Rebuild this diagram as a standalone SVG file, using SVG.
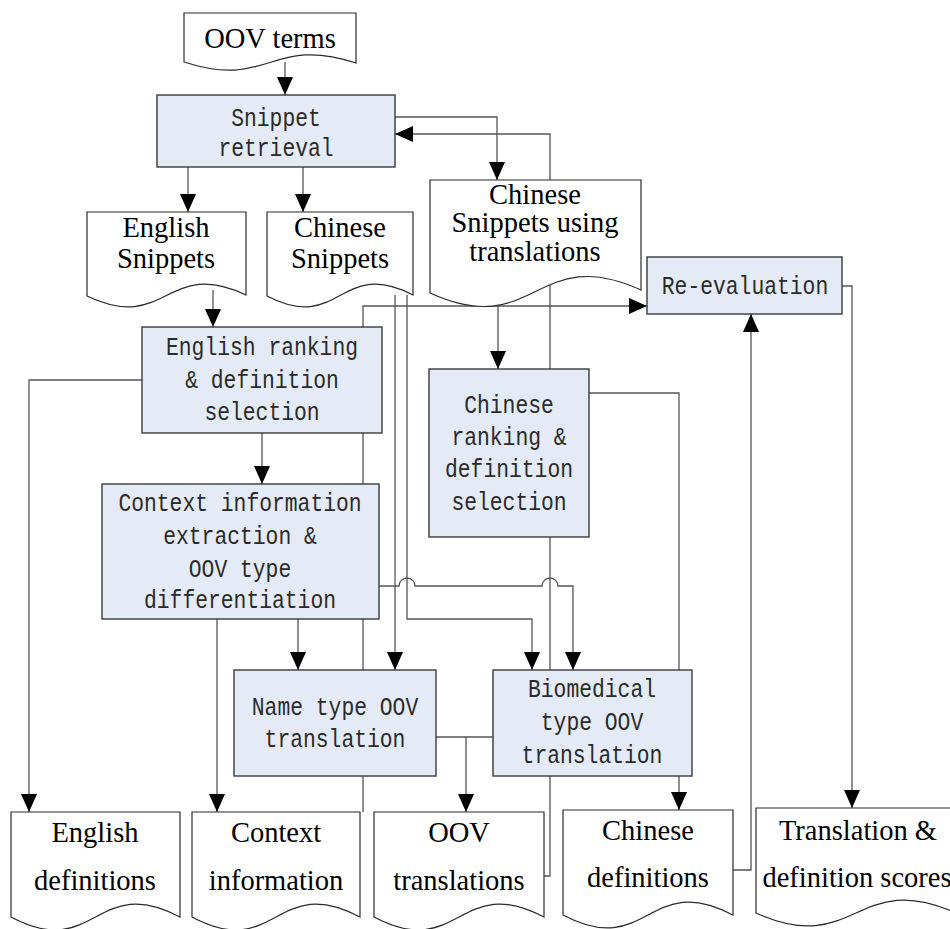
<svg xmlns="http://www.w3.org/2000/svg" width="950" height="929" viewBox="0 0 950 929">
<style>
.c{fill:none;stroke:#555;stroke-width:1.3}
.box{fill:#e5ebf6;stroke:#3a3a3a;stroke-width:1.4}
.doc{fill:#fff;stroke:#2a2a2a;stroke-width:1.2}
.m{font-family:"Liberation Mono","DejaVu Sans Mono",monospace;font-size:25px;fill:#2a2a2a;text-anchor:middle}
.t{font-family:"Liberation Serif","Times New Roman",serif;font-size:28.5px;fill:#000;text-anchor:middle}
</style>
<defs>
<marker id="ah" markerUnits="userSpaceOnUse" markerWidth="18" markerHeight="16" refX="18" refY="8" orient="auto" viewBox="0 0 18 16">
<path d="M0,0 L18,8 L0,16 Z" fill="#000"/>
</marker>
</defs>
<rect width="950" height="929" fill="#fff"/>
<g id="connectors">
<path class="c" d="M285,62 V95" marker-end="url(#ah)"/>
<path class="c" d="M188,167 V212" marker-end="url(#ah)"/>
<path class="c" d="M303,167 V212" marker-end="url(#ah)"/>
<path class="c" d="M395,117 H497 V180" marker-end="url(#ah)"/>
<path class="c" d="M544,876 H550 V134 H395" marker-end="url(#ah)"/>
<path class="c" d="M213,290 V327" marker-end="url(#ah)"/>
<path class="c" d="M395,295 V670" marker-end="url(#ah)"/>
<path class="c" d="M407,295 V619 H532 V670" marker-end="url(#ah)"/>
<path class="c" d="M498,305 V369" marker-end="url(#ah)"/>
<path class="c" d="M363,812 V306 H647" marker-end="url(#ah)"/>
<path class="c" d="M142,380 H29 V812" marker-end="url(#ah)"/>
<path class="c" d="M262,433 V484" marker-end="url(#ah)"/>
<path class="c" d="M589,393 H679 V810" marker-end="url(#ah)"/>
<path class="c" d="M379,586 H399 A8,8 0 0 1 415,586 H542 A8,8 0 0 1 558,586 H573 V670" marker-end="url(#ah)"/>
<path class="c" d="M217,619 V812" marker-end="url(#ah)"/>
<path class="c" d="M298,619 V670" marker-end="url(#ah)"/>
<path class="c" d="M436,737 H493"/>
<path class="c" d="M466,737 V812" marker-end="url(#ah)"/>
<path class="c" d="M733,870 H751 V314" marker-end="url(#ah)"/>
<path class="c" d="M842,286 H852 V808" marker-end="url(#ah)"/>
</g>
<g id="oov-terms">
<path class="doc" d="M184,13 H356 V63 C270,35 270,90 184,62 Z"/>
<text class="t" x="270" y="48">OOV terms</text>
</g>
<g id="snippet-retrieval">
<rect class="box" x="157" y="95" width="238" height="72"/>
<text class="m" x="276" y="126" textLength="89.6" lengthAdjust="spacingAndGlyphs">Snippet</text>
<text class="m" x="276" y="156" textLength="115.2" lengthAdjust="spacingAndGlyphs">retrieval</text>
</g>
<g id="english-snippets">
<path class="doc" d="M87,212 H246 V295 C166.5,257 166.5,334 87,296 Z"/>
<text class="t" x="166" y="237">English</text>
<text class="t" x="166" y="268">Snippets</text>
</g>
<g id="chinese-snippets">
<path class="doc" d="M267,212 H413 V295 C340,257 340,334 267,296 Z"/>
<text class="t" x="340" y="237">Chinese</text>
<text class="t" x="340" y="268">Snippets</text>
</g>
<g id="chinese-snippets-translations">
<path class="doc" d="M430,180 H641 V290 C535.5,242 535.5,341 430,293 Z"/>
<text class="t" x="535" y="204">Chinese</text>
<text class="t" x="535" y="232">Snippets using</text>
<text class="t" x="535" y="261">translations</text>
</g>
<g id="re-evaluation">
<rect class="box" x="647" y="257" width="195" height="57"/>
<text class="m" x="745" y="294" textLength="166.4" lengthAdjust="spacingAndGlyphs">Re-evaluation</text>
</g>
<g id="english-ranking">
<rect class="box" x="142" y="327" width="240" height="106"/>
<text class="m" x="262" y="355" textLength="192" lengthAdjust="spacingAndGlyphs">English ranking</text>
<text class="m" x="262" y="388" textLength="153.6" lengthAdjust="spacingAndGlyphs">&amp; definition</text>
<text class="m" x="262" y="420" textLength="115.2" lengthAdjust="spacingAndGlyphs">selection</text>
</g>
<g id="chinese-ranking">
<rect class="box" x="429" y="369" width="160" height="168"/>
<text class="m" x="509" y="413" textLength="89.6" lengthAdjust="spacingAndGlyphs">Chinese</text>
<text class="m" x="509" y="445" textLength="115.2" lengthAdjust="spacingAndGlyphs">ranking &amp;</text>
<text class="m" x="509" y="477" textLength="128" lengthAdjust="spacingAndGlyphs">definition</text>
<text class="m" x="509" y="510" textLength="115.2" lengthAdjust="spacingAndGlyphs">selection</text>
</g>
<g id="context-extraction">
<rect class="box" x="102" y="484" width="277" height="135"/>
<text class="m" x="240" y="511" textLength="243.2" lengthAdjust="spacingAndGlyphs">Context information</text>
<text class="m" x="240" y="544" textLength="153.6" lengthAdjust="spacingAndGlyphs">extraction &amp;</text>
<text class="m" x="240" y="577" textLength="102.4" lengthAdjust="spacingAndGlyphs">OOV type</text>
<text class="m" x="240" y="608" textLength="192" lengthAdjust="spacingAndGlyphs">differentiation</text>
</g>
<g id="name-type">
<rect class="box" x="234" y="670" width="202" height="106"/>
<text class="m" x="335" y="715" textLength="166.4" lengthAdjust="spacingAndGlyphs">Name type OOV</text>
<text class="m" x="335" y="747" textLength="140.8" lengthAdjust="spacingAndGlyphs">translation</text>
</g>
<g id="biomedical-type">
<rect class="box" x="493" y="670" width="199" height="106"/>
<text class="m" x="592" y="697" textLength="128" lengthAdjust="spacingAndGlyphs">Biomedical</text>
<text class="m" x="592" y="730" textLength="102.4" lengthAdjust="spacingAndGlyphs">type OOV</text>
<text class="m" x="592" y="763" textLength="140.8" lengthAdjust="spacingAndGlyphs">translation</text>
</g>
<g id="english-definitions">
<path class="doc" d="M11,812 H180 V917 C95.5,872 95.5,962 11,917 Z"/>
<text class="t" x="95" y="842">English</text>
<text class="t" x="95" y="890">definitions</text>
</g>
<g id="context-information">
<path class="doc" d="M192,812 H360 V917 C276,872 276,962 192,917 Z"/>
<text class="t" x="276" y="842">Context</text>
<text class="t" x="276" y="890">information</text>
</g>
<g id="oov-translations">
<path class="doc" d="M374,812 H544 V917 C459,872 459,962 374,917 Z"/>
<text class="t" x="459" y="842">OOV</text>
<text class="t" x="459" y="890">translations</text>
</g>
<g id="chinese-definitions">
<path class="doc" d="M563,810 H733 V915 C648,870 648,960 563,915 Z"/>
<text class="t" x="648" y="840">Chinese</text>
<text class="t" x="648" y="887">definitions</text>
</g>
<g id="translation-scores">
<path class="doc" d="M756,808 H956 V913 C856,868 856,958 756,913 Z"/>
<text class="t" x="858" y="840">Translation &amp;</text>
<text class="t" x="857" y="887">definition scores</text>
</g>
</svg>
